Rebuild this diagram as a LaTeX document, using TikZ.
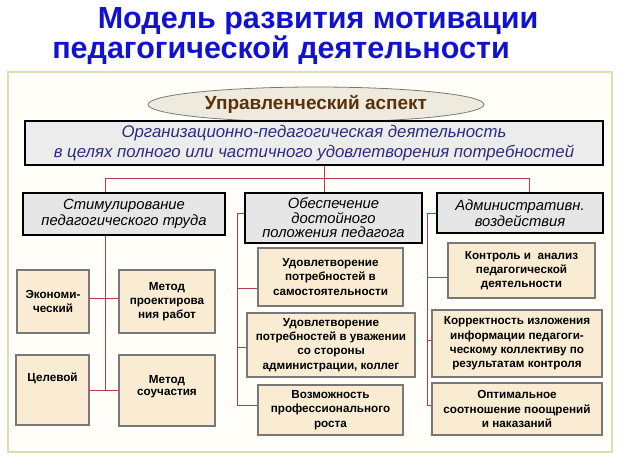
\documentclass[tikz,border=0pt]{standalone}
\usepackage{fontspec}
\setmainfont{Liberation Sans}
\usetikzlibrary{shapes.geometric}
\definecolor{titleblue}{RGB}{17,17,210}
\definecolor{linered}{RGB}{180,60,80}
\definecolor{framecol}{RGB}{225,220,175}
\definecolor{framefill}{RGB}{255,254,248}
\definecolor{ellfill}{RGB}{238,235,222}
\definecolor{ellborder}{RGB}{120,120,120}
\definecolor{elltext}{RGB}{90,50,10}
\definecolor{orgfill}{RGB}{236,236,236}
\definecolor{orgtext}{RGB}{45,45,125}
\definecolor{headfill}{RGB}{230,230,230}
\definecolor{subfill}{RGB}{250,236,210}
\definecolor{subborder}{RGB}{120,120,120}
\begin{document}
\begin{tikzpicture}[x=1pt,y=-1pt,
  hdr/.style={draw=black, line width=1.3pt, fill=headfill, align=center, inner sep=0pt,
    font=\fontsize{14.8}{16.5}\selectfont\itshape},
  sub/.style={draw=subborder, line width=1.2pt, fill=subfill, align=center, inner sep=0pt,
    font=\fontsize{11.7}{14.3}\selectfont\bfseries},
  conn/.style={draw=linered, line width=0.8pt},
  ttl/.style={anchor=base, inner sep=0pt, text=titleblue, font=\fontsize{30.5}{30.5}\selectfont\bfseries}]
\useasboundingbox (0,0) rectangle (621,466);

% title
\node[ttl] (title1) at (318,28.5) {Модель развития мотивации};
\node[ttl] (title2) at (281,58.5) {педагогической деятельности};

% frame
\node[draw=framecol, fill=framefill, line width=1.5pt, minimum width=604, minimum height=380, inner sep=0pt] (frame) at (310,262) {};

% ellipse
\node[ellipse, draw=ellborder, line width=0.8pt, fill=ellfill, minimum width=336, minimum height=35, inner sep=0pt,
  text=elltext, font=\fontsize{19}{19}\selectfont\bfseries] (asp) at (316,104.5) {Управленческий аспект};

% coordinates for connectors
\coordinate (hub) at (324,178);
\coordinate (hl) at (105,178);
\coordinate (hr) at (529,178);
\coordinate (lt1) at (105,298);
\coordinate (lt2) at (105,390);
\coordinate (mt0) at (237,213);
\coordinate (mt1) at (237,288);
\coordinate (mt2) at (237,347);
\coordinate (mt3) at (237,405);
\coordinate (rt0) at (427,213);
\coordinate (rt1) at (427,277);
\coordinate (rt2) at (427,340);
\coordinate (rt3) at (427,405);

% main box
\node[draw=black, line width=1.4pt, fill=orgfill, minimum width=578, minimum height=44, inner sep=0pt, align=center,
  text=orgtext, font=\fontsize{16.8}{20}\selectfont\itshape] (org) at (314,143)
  {Организационно-педагогическая деятельность\\в целях полного или частичного удовлетворения потребностей};

% connectors
\draw[conn] (org.south -| hub) -- (hub);
\draw[conn] (hl) -- (hr);
\draw[conn] (hub) -- ++(0,15);
\draw[conn] (hr) -- ++(0,15);
\draw[conn] (hl) -- (lt2);
\draw[conn] (lt1) -- ++(-16,0);
\draw[conn] (lt1) -- ++(14,0);
\draw[conn] (lt2) -- ++(-16,0);
\draw[conn] (lt2) -- ++(14,0);
\draw[conn] (mt0) -- (mt3);
\draw[conn] (rt0) -- (rt3);

% headers
\node[hdr, minimum width=202, minimum height=42] (stim) at (124,214) {Стимулирование\\педагогического труда};
\node[hdr, minimum width=177, minimum height=50, font=\fontsize{14.8}{14.5}\selectfont\itshape] (obesp) at (333.5,218) {Обеспечение\\достойного\\положения педагога};
\node[hdr, minimum width=166, minimum height=40] (adm) at (520,213) {Административн.\\воздействия};

% left sub boxes
\node[sub, minimum width=72, minimum height=63] (eco) at (53,301.5) {Экономи-\\ческий};
\node[sub, minimum width=96, minimum height=63] (proj) at (167,301.5) {Метод\\проектирова\\ния работ};
\node[sub, minimum width=73, minimum height=70] (cel) at (52.5,390) {\raisebox{12pt}[\height][\depth]{Целевой}};
\node[sub, minimum width=96, minimum height=71] (souch) at (167,390.5) {\raisebox{4pt}[\height][\depth]{\begin{tabular}{@{}c@{}}Метод\\[-2.4pt]соучастия\end{tabular}}};

% middle sub boxes
\node[sub, minimum width=145, minimum height=58] (m1) at (330.5,277) {Удовлетворение\\потребностей в\\самостоятельности};
\node[sub, minimum width=168, minimum height=64] (m2) at (331,345) {Удовлетворение\\потребностей в уважении\\со стороны\\администрации, коллег};
\node[sub, minimum width=145, minimum height=50] (m3) at (330.5,410) {Возможность\\профессионального\\роста};

% right sub boxes
\node[sub, minimum width=147, minimum height=55] (r1) at (521.5,270.5) {Контроль и\ \ анализ\\педагогической\\деятельности};
\node[sub, minimum width=170, minimum height=67] (r2) at (517,343.5) {Корректность изложения\\информации педагоги-\\ческому коллективу по\\результатам контроля};
\node[sub, minimum width=170, minimum height=52] (r3) at (517,409) {Оптимальное\\соотношение поощрений\\и наказаний};

% bracket ticks
\draw[conn] (mt0) -- (mt0 -| obesp.west);
\draw[conn] (mt1) -- (mt1 -| m1.west);
\draw[conn] (mt2) -- (mt2 -| m2.west);
\draw[conn] (mt3) -- (mt3 -| m3.west);
\draw[conn] (rt0) -- (rt0 -| adm.west);
\draw[conn] (rt1) -- (rt1 -| r1.west);
\draw[conn] (rt2) -- (rt2 -| r2.west);
\draw[conn] (rt3) -- (rt3 -| r3.west);
\end{tikzpicture}
\end{document}
